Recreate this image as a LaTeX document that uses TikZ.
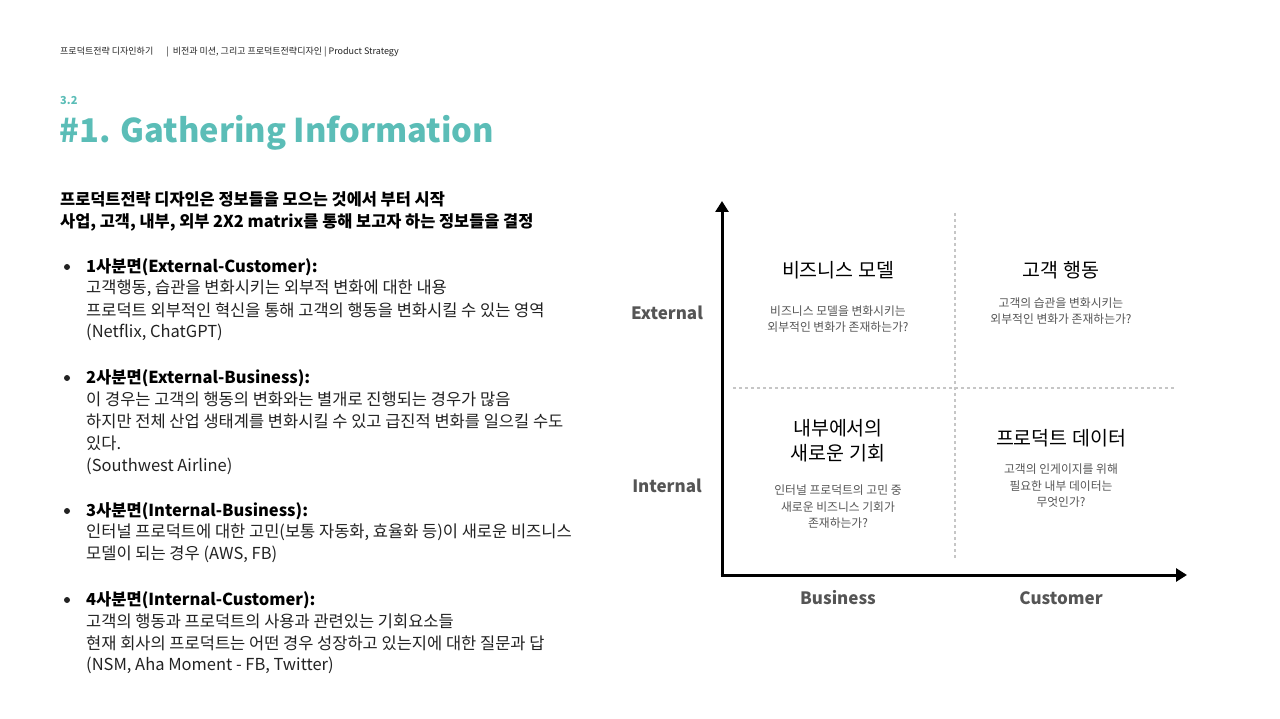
\documentclass[tikz,border=0pt]{standalone}
\usepackage{fontspec}
\setmainfont{Noto Sans CJK KR}
\usetikzlibrary{arrows.meta}
\definecolor{teal1}{HTML}{5BBDB7}
\definecolor{axgray}{HTML}{555555}
\definecolor{txt}{HTML}{222222}
\begin{document}
\begin{tikzpicture}[x=1pt,y=-1pt,
  hdr/.style={anchor=west,inner sep=0,font=\fontsize{9}{10}\selectfont,text=txt},
  body/.style={anchor=west,inner sep=0,font=\fontsize{16.5}{22}\selectfont,text=txt},
  bodyb/.style={anchor=west,inner sep=0,font=\fontsize{16.5}{22}\selectfont\bfseries,text=black},
  headb/.style={anchor=west,inner sep=0,font=\fontsize{16.4}{22}\selectfont\bfseries,text=black},
  axlab/.style={inner sep=0,font=\fontsize{17}{20}\selectfont\bfseries,text=axgray},
  qtitle/.style={inner sep=0,align=center,font=\fontsize{19.5}{25}\selectfont,text=black},
  qsub/.style={inner sep=0,align=center,font=\fontsize{11.8}{16.5}\selectfont,text=axgray},
  bul/.style={circle,fill=txt,inner sep=0,minimum size=6pt}]
\useasboundingbox (0,0) rectangle (1280,719);
\node[hdr] (h1) at (60,52) {프로덕트전략 디자인하기\quad\ \ | \ 비전과 미션, 그리고 프로덕트전략디자인 | Product Strategy};
\node[anchor=west,inner sep=0,font=\fontsize{11}{12}\selectfont\bfseries,text=teal1] (sec) at (60,101) {3.2};
\node[anchor=west,inner sep=0,font=\fontsize{32.7}{40}\selectfont\bfseries,text=teal1] (title) at (59,133) {\#1. Gathering Information};
\node[headb] (l1) at (60,199) {프로덕트전략 디자인은 정보들을 모으는 것에서 부터 시작};
\node[headb] (l2) at (60,222) {사업, 고객, 내부, 외부 2X2 matrix를 통해 보고자 하는 정보들을 결정};
\node[bul] (b1) at (67,267) {};
\node[bodyb] (t1) at (86,267) {1사분면(External-Customer):};
\node[body] at (86,288) {고객행동, 습관을 변화시키는 외부적 변화에 대한 내용};
\node[body] at (86,310) {프로덕트 외부적인 혁신을 통해 고객의 행동을 변화시킬 수 있는 영역};
\node[body] at (86,332) {(Netflix, ChatGPT)};
\node[bul] (b2) at (67,378) {};
\node[bodyb] (t2) at (86,378) {2사분면(External-Business):};
\node[body] at (86,399) {이 경우는 고객의 행동의 변화와는 별개로 진행되는 경우가 많음};
\node[body] at (86,421) {하지만 전체 산업 생태계를 변화시킬 수 있고 급진적 변화를 일으킬 수도};
\node[body] at (86,443) {있다.};
\node[body] at (86,466) {(Southwest Airline)};
\node[bul] (b3) at (67,511) {};
\node[bodyb] (t3) at (86,511) {3사분면(Internal-Business):};
\node[body] at (86,532) {인터널 프로덕트에 대한 고민(보통 자동화, 효율화 등)이 새로운 비즈니스};
\node[body] at (86,554) {모델이 되는 경우 (AWS, FB)};
\node[bul] (b4) at (67,600) {};
\node[bodyb] (t4) at (86,600) {4사분면(Internal-Customer):};
\node[body] at (86,621) {고객의 행동과 프로덕트의 사용과 관련있는 기회요소들};
\node[body] at (86,643) {현재 회사의 프로덕트는 어떤 경우 성장하고 있는지에 대한 질문과 답};
\node[body] at (86,665) {(NSM, Aha Moment - FB, Twitter)};
% chart
\coordinate (o) at (722,575);
\coordinate (ytop) at (722,201);
\coordinate (xend) at (1187,575);
\draw[line width=3pt,-{Triangle[length=11pt,width=13pt]}] ([yshift=1.5]o) -- (ytop);
\draw[line width=3pt,-{Triangle[length=11pt,width=13pt]}] ([xshift=-1.5]o) -- (xend);
\coordinate (v1) at (955,213); \coordinate (v2) at (955,560);
\coordinate (hh1) at (733,388); \coordinate (hh2) at (1175,388);
\draw[gray!45,line width=1.2pt,dash pattern=on 3pt off 3pt] (v1) -- (v2);
\draw[gray!45,line width=1.2pt,dash pattern=on 3pt off 3pt] (hh1) -- (hh2);
\node[axlab] (ext) at (667,313) {External};
\node[axlab] (int) at (667,486) {Internal};
\node[axlab] (bus) at (838,598) {Business};
\node[axlab] (cus) at (1061,598) {Customer};
\node[qtitle] (q1) at (838,270) {비즈니스 모델};
\node[qsub] (q1s) at (838,319) {비즈니스 모델을 변화시키는\\외부적인 변화가 존재하는가?};
\node[qtitle] (q2) at (1061,270) {고객 행동};
\node[qsub] (q2s) at (1061,311) {고객의 습관을 변화시키는\\외부적인 변화가 존재하는가?};
\node[qtitle] (q3) at (838,441) {내부에서의\\새로운 기회};
\node[qsub] (q3s) at (838,507) {인터널 프로덕트의 고민 중\\새로운 비즈니스 기회가\\존재하는가?};
\node[qtitle] (q4) at (1061,438) {프로덕트 데이터};
\node[qsub] (q4s) at (1061,486) {고객의 인게이지를 위해\\필요한 내부 데이터는\\무엇인가?};
\end{tikzpicture}
\end{document}
